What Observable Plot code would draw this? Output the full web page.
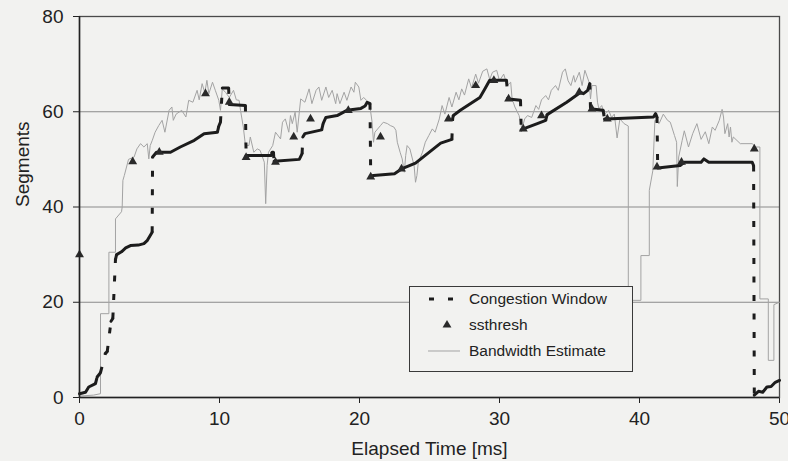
<!DOCTYPE html>
<html>
<head>
<meta charset="utf-8">
<script src="https://cdn.jsdelivr.net/npm/d3@7"></script>
<script src="https://cdn.jsdelivr.net/npm/@observablehq/plot@0.6"></script>
<style>
  html, body { margin: 0; padding: 0; background: #f2f2f0; }
  #wrap { position: relative; width: 788px; height: 461px; font-family: "Liberation Sans", Arial, Helvetica, sans-serif; }
  #legend { position: absolute; left: 409px; top: 286px; width: 224px; height: 86px; box-sizing: border-box;
            border: 1.5px solid #3a3a3a; background: #f2f2f0; }
  #legend .row { position: absolute; left: 0; height: 26px; display: flex; align-items: center; }
  #legend .row svg { margin-left: 18px; }
  #legend .row span { margin-left: 8px; font-size: 15.5px; color: #222; white-space: nowrap; }
</style>
</head>
<body>
<div id="wrap"></div>
<script>
// ---------------- data ----------------
const seriesNames = ["Congestion Window", "ssthresh", "Bandwidth Estimate"];
const xLabel = "Elapsed Time [ms]";
const yLabel = "Segments";
const xTicks = [0, 10, 20, 30, 40, 50];
const yTicks = [0, 20, 40, 60, 80];
const gridValues = [20, 40, 60];

// Congestion window (segments) vs elapsed time (ms)
const cwndTime = [0, 0.43, 0.66, 1.14, 1.26, 1.5, 1.85, 1.98, 2.25, 2.38,
  2.57, 2.65, 3.0, 3.3, 3.64, 4.2, 4.6, 4.85, 5.19, 5.22,
  5.5, 6.5, 7.2, 8.2, 8.9, 9.85, 9.95, 10.07, 10.2, 10.65,
  10.7, 11.85, 11.9, 13.7, 13.76, 13.85, 13.9, 15.7, 15.9, 15.95,
  16.1, 17.3, 17.4, 17.6, 18.4, 19.1, 20.1, 20.4, 20.55, 20.75,
  20.8, 21.0, 22.5, 23.0, 24.0, 25.8, 26.6, 26.65, 26.7, 27.2,
  28.6, 28.9, 29.3, 30.5, 30.6, 30.65, 31.5, 31.55, 31.7, 32.7,
  33.3, 33.4, 34.8, 35.8, 36.0, 36.3, 36.45, 36.5, 36.6, 37.4,
  37.5, 37.6, 41.0, 41.15, 41.25, 41.3, 42.9, 43.2, 44.4, 44.6,
  44.95, 48.05, 48.15, 48.2, 48.5, 48.8, 49.1, 49.4, 49.7, 50];
const cwndValue = [0.8, 1.1, 2.2, 2.9, 4.3, 5.2, 9.3, 9.6, 16.0, 16.6,
  29.0, 30.0, 30.6, 31.4, 31.9, 32.0, 32.3, 33.0, 34.7, 50.5,
  51.5, 51.5, 52.6, 54.0, 55.4, 55.7, 57.0, 57.8, 65.0, 65.0,
  61.5, 61.3, 50.8, 50.8, 51.5, 51.5, 49.6, 50.0, 51.2, 54.7,
  55.4, 56.2, 57.5, 58.8, 59.2, 60.3, 60.7, 61.2, 62.0, 61.7,
  46.5, 46.6, 47.0, 48.0, 49.2, 53.4, 54.2, 58.5, 59.2, 60.3,
  63.0, 64.5, 66.6, 66.6, 62.9, 62.7, 62.4, 56.2, 56.4, 57.5,
  58.2, 59.4, 62.0, 64.1, 63.8, 64.5, 65.9, 60.8, 60.6, 60.3,
  58.5, 58.5, 58.9, 59.6, 58.9, 48.2, 48.7, 49.4, 49.4, 50.1,
  49.4, 49.4, 48.7, 0.5, 1.3, 1.1, 2.2, 2.3, 3.2, 3.6];

// ssthresh markers
const ssthreshTime = [0, 3.8, 5.7, 9.0, 10.7, 11.9, 14.0, 15.3, 16.5, 19.2,
  20.8, 21.5, 23.0, 26.35, 28.3, 29.6, 30.65, 31.7, 33.0, 35.7,
  36.6, 37.7, 41.25, 43.0, 48.2];
const ssthreshValue = [30, 49.5, 51.5, 63.8, 62.0, 50.4, 49.4, 54.7, 58.5, 60.3,
  46.3, 54.7, 48.0, 58.5, 65.5, 66.6, 62.7, 56.4, 59.2, 64.1,
  60.6, 58.5, 48.4, 49.4, 52.2];

// Bandwidth estimate
const bwTime = [0, 1.0, 1.5, 1.5, 2.1, 2.1, 2.57, 2.57, 3.0, 3.05,
  3.1, 3.2, 3.5, 3.9, 4.1, 4.36, 4.6, 4.84, 4.95, 5.05,
  5.2, 5.4, 5.66, 5.9, 6.1, 6.4, 6.6, 6.7, 6.9, 7.3,
  7.6, 7.8, 8.1, 8.4, 8.55, 8.76, 8.95, 9.1, 9.24, 9.5,
  9.7, 9.95, 10.07, 10.2, 10.45, 10.7, 11.0, 11.2, 11.4, 11.5,
  11.7, 11.85, 12.1, 12.2, 12.45, 12.7, 12.9, 13.2, 13.3, 13.4,
  13.5, 13.8, 14.0, 14.36, 14.5, 14.7, 14.95, 15.07, 15.2, 15.4,
  15.55, 15.8, 16.1, 16.4, 16.6, 16.9, 17.1, 17.3, 17.6, 17.8,
  18.05, 18.3, 18.4, 18.6, 18.9, 19.1, 19.4, 19.6, 19.7, 19.95,
  20.1, 20.3, 20.5, 20.75, 20.9, 21.0, 21.1, 21.5, 21.7, 22.0,
  22.2, 22.45, 22.6, 22.7, 22.9, 23.05, 23.2, 23.3, 23.4, 23.6,
  23.9, 24.0, 24.1, 24.2, 24.5, 24.7, 24.95, 25.2, 25.4, 25.7,
  25.9, 26.1, 26.4, 26.6, 26.9, 27.1, 27.3, 27.5, 27.8, 28.0,
  28.3, 28.5, 28.8, 29.1, 29.3, 29.5, 29.8, 30.0, 30.3, 30.55,
  30.8, 30.9, 31.1, 31.4, 31.6, 31.8, 32.0, 32.3, 32.6, 32.8,
  33.0, 33.3, 33.5, 33.7, 34.0, 34.2, 34.5, 34.7, 34.9, 35.1,
  35.3, 35.4, 35.7, 35.9, 36.1, 36.4, 36.5, 36.6, 36.9, 37.0,
  37.1, 37.3, 37.5, 37.8, 38.0, 38.2, 38.4, 38.6, 38.9, 39.2,
  39.2, 40.1, 40.1, 40.7, 40.7, 40.95, 41.1, 41.4, 41.7, 42.0,
  42.2, 42.5, 42.65, 42.7, 42.8, 43.05, 43.2, 43.5, 43.8, 44.1,
  44.4, 44.7, 44.95, 45.2, 45.4, 45.7, 45.9, 46.0, 46.1, 46.3,
  46.4, 46.5, 46.6, 46.7, 47.2, 48.05, 48.3, 48.6, 48.6, 49.2,
  49.2, 49.6, 49.6, 50];
const bwValue = [0.3, 0.5, 0.8, 17.6, 17.6, 30.5, 30.5, 37.5, 39, 40,
  45.6, 46.6, 50, 50.5, 52.2, 53.3, 52.6, 53.3, 50.1, 52.9,
  54, 55.7, 57.1, 58.2, 55.7, 60.3, 61, 58.2, 59.5, 60.3,
  58.9, 62.4, 62, 64.5, 62.5, 65.9, 64, 66.6, 63.8, 66.2,
  64.5, 62.4, 60.3, 64.8, 64, 63, 64.5, 62.5, 62.4, 60.3,
  56.8, 53, 52.9, 54.7, 51.5, 52.2, 51.9, 49.4, 40.7, 48.7,
  51.5, 52.9, 55.7, 54.3, 57.8, 58.5, 55.7, 59.2, 57.5, 59.9,
  55.7, 62.7, 62, 64.8, 61.7, 64.5, 65.2, 62.4, 65.2, 63,
  64.5, 61.7, 63.8, 61.7, 64.1, 62.4, 65.2, 64.1, 66.2, 65.2,
  62.4, 63, 62.4, 61, 57.8, 53.6, 55.7, 57.1, 57.8, 57.5,
  57.1, 56.8, 56.1, 53.6, 51.5, 50.1, 47.3, 50.8, 52.9, 52.2,
  48.7, 45.2, 46.6, 49.4, 51.5, 53.6, 55, 56.4, 55.7, 58.5,
  61.3, 59.5, 63, 61, 64.1, 62.5, 64.8, 63.5, 66.9, 65,
  67.9, 66, 68.5, 69, 66.8, 68.3, 68.7, 66.5, 67.9, 65.5,
  66.2, 62.7, 61, 59.2, 56.4, 58.5, 59.2, 58.8, 61.3, 60.5,
  62.5, 63.4, 62.5, 64.5, 65.5, 64.5, 68.3, 69, 66.5, 65.5,
  67.6, 66.2, 68.3, 65.5, 68.7, 66.2, 62.7, 65.5, 65.5, 62,
  60.6, 61.3, 59.5, 60.3, 58.8, 59.5, 54.5, 58.5, 57.5, 57,
  20.4, 20.4, 29.8, 29.8, 43.5, 47.6, 58.2, 57.5, 59.5, 58.2,
  57.8, 55, 53.6, 44.3, 50.5, 54, 56, 52.6, 55.4, 57.5,
  54.2, 55.8, 53.3, 56.8, 56.1, 58.2, 60.5, 58.9, 55.4, 57.5,
  54.7, 56.8, 53.6, 54.7, 53.3, 53.3, 52.6, 52.6, 20.7, 20.7,
  7.8, 7.8, 19.5, 20];

// ---------------- build tables ----------------
const cwnd = cwndTime.map((t, i) => ({t, v: cwndValue[i]}));
const ss = ssthreshTime.map((t, i) => ({t, v: ssthreshValue[i]}));
const bw = bwTime.map((t, i) => ({t, v: bwValue[i]}));

// near-vertical jumps of the congestion window are drawn dashed, the rest solid
const isSteep = (a, b) => Math.abs(b.v - a.v) > 10 * Math.abs(b.t - a.t);
const steep = [];
const solid = [];
let run = 0;
solid.push({...cwnd[0], run});
for (let i = 1; i < cwnd.length; i++) {
  const a = cwnd[i - 1], b = cwnd[i];
  if (isSteep(a, b)) { steep.push({t1: a.t, v1: a.v, t2: b.t, v2: b.v}); run++; }
  solid.push({...b, run});
}

const ink = "#1c1c1c";

const chart = Plot.plot({
  width: 788,
  height: 461,
  marginLeft: 79,
  marginRight: 9,
  marginTop: 16,
  marginBottom: 64,
  style: {background: "transparent", fontFamily: "'Liberation Sans', Arial, Helvetica, sans-serif", fontSize: "19px", color: "#222"},
  x: {domain: [0, 50], ticks: xTicks, tickSize: 6, tickPadding: 8, label: null},
  y: {domain: [0, 80], ticks: yTicks, tickSize: 6, tickPadding: 10, label: null},
  marks: [
    Plot.ruleY(gridValues, {stroke: "#8a8a8a", strokeWidth: 1}),
    Plot.frame({stroke: "#4a4a4a", strokeWidth: 1.3}),
    Plot.line(bw, {x: "t", y: "v", stroke: "#a3a3a3", strokeWidth: 1}),
    Plot.line(solid, {x: "t", y: "v", z: "run", stroke: ink, strokeWidth: 3, strokeLinejoin: "round"}),
    Plot.link(steep, {x1: "t1", y1: "v1", x2: "t2", y2: "v2", stroke: ink, strokeWidth: 3, strokeDasharray: "6,12.5"}),
    Plot.dot(ss, {x: "t", y: "v", symbol: "triangle", r: 3.3, fill: "#2a2a2a", stroke: "none"}),
    Plot.ruleX([0], {stroke: "#222", strokeWidth: 1.5}),
    Plot.ruleY([0], {stroke: "#222", strokeWidth: 1.5}),
    Plot.text([xLabel], {text: d => d, frameAnchor: "bottom", dy: 57, fontSize: 19, fill: "#222"}),
    Plot.text([yLabel], {text: d => d, frameAnchor: "left", dx: -57, rotate: -90, fontSize: 19, fill: "#222"})
  ]
});

const wrap = document.getElementById("wrap");
wrap.appendChild(chart);

// ---------------- legend ----------------
const legend = d3.select(wrap).append("div").attr("id", "legend");
const swatches = [
  g => { g.append("line").attr("x1", 1).attr("x2", 26).attr("y1", 6).attr("y2", 6)
          .attr("stroke", ink).attr("stroke-width", 3).attr("stroke-dasharray", "5,14"); },
  g => { g.append("path").attr("d", d3.symbol(d3.symbolTriangle, 34)()).attr("transform", "translate(19,6)")
          .attr("fill", "#2a2a2a"); },
  g => { g.append("line").attr("x1", 0).attr("x2", 32).attr("y1", 6).attr("y2", 6)
          .attr("stroke", "#a3a3a3").attr("stroke-width", 1); }
];
seriesNames.forEach((name, i) => {
  const row = legend.append("div").attr("class", "row").style("top", (i * 26 - 1) + "px");
  const svg = row.append("svg").attr("width", 33).attr("height", 12);
  swatches[i](svg);
  row.append("span").text(name);
});
</script>
</body>
</html>
